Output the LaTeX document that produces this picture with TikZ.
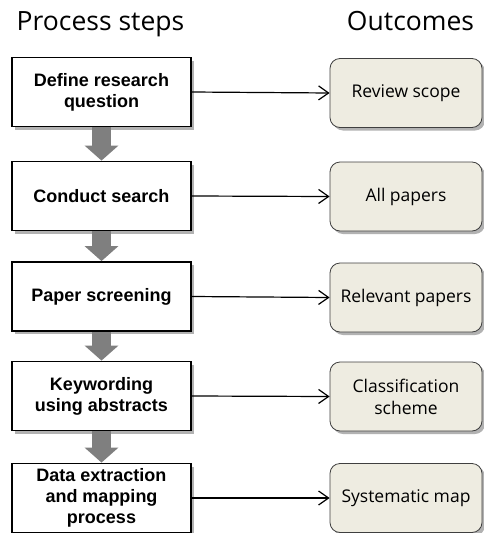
\documentclass[tikz,border=0pt]{standalone}
\usepackage{fontspec}
\setmainfont{Liberation Sans}
\newfontfamily\headfont{Open Sans}
\usetikzlibrary{arrows.meta,shadows}
\definecolor{outfill}{HTML}{EEECE1}
\definecolor{outdraw}{HTML}{3F3F3F}
\definecolor{blockgray}{HTML}{7F7F7F}
\begin{document}
\begin{tikzpicture}[x=1pt,y=-1pt,
  stepbox/.style={draw=black, line width=1.8pt, fill=white,
    minimum width=179pt, minimum height=69pt, align=center, inner sep=0pt,
    font=\fontsize{18}{21}\selectfont\bfseries,
    drop shadow={shadow xshift=3pt, shadow yshift=-3pt, fill=black, opacity=0.3}},
  outbox/.style={draw=outdraw, line width=0.8pt, fill=outfill, rounded corners=10pt,
    minimum width=152pt, minimum height=69pt, align=center, inner sep=0pt,
    font=\headfont\fontsize{17.5}{22}\selectfont,
    drop shadow={shadow xshift=3pt, shadow yshift=-3pt, fill=black, opacity=0.3}},
  headtext/.style={font=\headfont\fontsize{26.5}{30}\selectfont, anchor=base, inner sep=0pt},
  flowarrow/.style={draw=black, line width=1.2pt, -{Straight Barb[length=10pt,width=14pt]}},
  blockarrow/.style={draw=blockgray, line width=19pt, -{Triangle[width=33pt,length=15pt]}}
]
\useasboundingbox (0,0) rectangle (484,533);

\node[headtext] (h1) at (100.5,30.7) {Process steps};
\node[headtext] (h2) at (410.5,30.7) {Outcomes};

\node[stepbox] (s1) at (101.5,92) {Define research\\question};
\node[stepbox] (s2) at (101.5,196) {Conduct search};
\node[stepbox] (s3) at (101.5,296.5) {Paper screening};
\node[stepbox] (s4) at (101.5,396) {Keywording\\using abstracts};
\node[stepbox] (s5) at (101.5,498) {Data extraction\\and mapping\\process};

\node[outbox] (o1) at (406,93) {Review scope};
\node[outbox] (o2) at (406,196.5) {All papers};
\node[outbox] (o3) at (406,297.5) {Relevant papers};
\node[outbox] (o4) at (406,396.5) {Classification\\scheme};
\node[outbox] (o5) at (406,498) {Systematic map};

\foreach \i in {1,...,5}{
  \draw[flowarrow] (s\i.east) -- (o\i.west);
}
\draw[blockarrow] (s1.south) -- (s2.north);
\draw[blockarrow] (s2.south) -- (s3.north);
\draw[blockarrow] (s3.south) -- (s4.north);
\draw[blockarrow] (s4.south) -- (s5.north);
\end{tikzpicture}
\end{document}
